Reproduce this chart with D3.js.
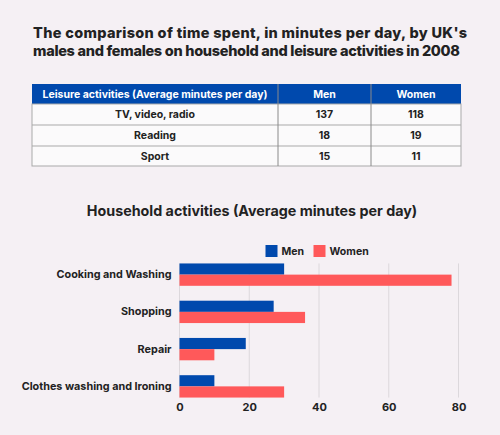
<!DOCTYPE html>
<html lang="en">
<head>
    <meta charset="UTF-8">
    <title>UK time spent 2008</title>
    <script src="https://d3js.org/d3.v7.min.js"></script>
    <style>
        body { margin: 0; background: #f5f0f4; }
        svg { display: block; font-family: Inter, "Open Sans", sans-serif; }
    </style>
</head>
<body>
    <div id="chart"></div>
    <script>
        // data
        var titleLines = ["The comparison of time spent, in minutes per day, by UK's",
                          "males and females on household and leisure activities in 2008"];
        var tableHeader = ["Leisure activities (Average minutes per day)", "Men", "Women"];
        var leisure = ["TV, video, radio", "Reading", "Sport"];
        var leisureMen = [137, 18, 15];
        var leisureWomen = [118, 19, 11];

        var chartTitle = "Household activities (Average minutes per day)";
        var household = ["Cooking and Washing", "Shopping", "Repair", "Clothes washing and Ironing"];
        var series = ["Men", "Women"];
        var householdMen = [30, 27, 19, 10];
        var householdWomen = [78, 36, 10, 30];
        var xTicks = [0, 20, 40, 60, 80];

        var colors = { Men: "#0049ad", Women: "#ff595a" };

        var W = 500, H = 435;
        var svg = d3.select("#chart").append("svg").attr("width", W).attr("height", H);

        svg.append("rect").attr("width", W).attr("height", H).attr("fill", "#f5f0f4");

        // title (two lines, stretched to the same width as the reference)
        var titleWidths = [434, 427];
        svg.selectAll(".title").data(titleLines).enter().append("text")
            .attr("x", 33)
            .attr("y", function(d, i) { return 38 + i * 18; })
            .attr("font-size", 14.5)
            .attr("font-weight", 800)
            .attr("fill", "#222")
            .attr("textLength", function(d, i) { return titleWidths[i]; })
            .attr("lengthAdjust", "spacing")
            .text(function(d) { return d; });

        // table
        var colX = [32, 278, 371, 461];
        var rowY = [84, 104, 125, 146, 166];
        var tbl = svg.append("g");
        tbl.append("rect").attr("x", colX[0]).attr("y", rowY[0])
            .attr("width", colX[3] - colX[0]).attr("height", rowY[1] - rowY[0])
            .attr("fill", "#0049ad");
        tbl.append("rect").attr("x", colX[0]).attr("y", rowY[1])
            .attr("width", colX[3] - colX[0]).attr("height", rowY[4] - rowY[1])
            .attr("fill", "#fbfafb").attr("stroke", "#a9a9a9").attr("stroke-width", 1);
        [2, 3].forEach(function(i) {
            tbl.append("line").attr("x1", colX[0]).attr("x2", colX[3])
                .attr("y1", rowY[i]).attr("y2", rowY[i]).attr("stroke", "#a9a9a9");
        });
        [1, 2].forEach(function(i) {
            tbl.append("line").attr("x1", colX[i]).attr("x2", colX[i])
                .attr("y1", rowY[0]).attr("y2", rowY[4]).attr("stroke", "#8a8a8a");
        });
        tableHeader.forEach(function(h, i) {
            tbl.append("text")
                .attr("x", (colX[i] + colX[i + 1]) / 2).attr("y", (rowY[0] + rowY[1]) / 2)
                .attr("dy", "0.35em").attr("text-anchor", "middle")
                .attr("font-size", 10.5).attr("font-weight", 700).attr("fill", "#fff")
                .text(h);
        });
        leisure.forEach(function(name, r) {
            var cells = [name, leisureMen[r], leisureWomen[r]];
            cells.forEach(function(c, i) {
                tbl.append("text")
                    .attr("x", (colX[i] + colX[i + 1]) / 2).attr("y", (rowY[r + 1] + rowY[r + 2]) / 2)
                    .attr("dy", "0.35em").attr("text-anchor", "middle")
                    .attr("font-size", 10.5).attr("font-weight", 700).attr("fill", "#222")
                    .text(c);
            });
        });

        // bar chart
        svg.append("text").attr("x", 252).attr("y", 211).attr("dy", "0.35em")
            .attr("text-anchor", "middle").attr("font-size", 14.3).attr("font-weight", 700)
            .attr("fill", "#222").text(chartTitle);

        var x = d3.scaleLinear().domain([0, 80]).range([179.5, 458.5]);
        var y = d3.scaleBand().domain(household).range([256, 405]).paddingInner(0.4).paddingOuter(0.2);
        var y1 = d3.scaleBand().domain(series).range([0, y.bandwidth()]);

        var gridTop = y(household[0]), gridBot = y(household[household.length - 1]) + y.bandwidth();
        svg.append("g").selectAll("line").data(xTicks).enter().append("line")
            .attr("x1", function(d) { return x(d); }).attr("x2", function(d) { return x(d); })
            .attr("y1", gridTop).attr("y2", gridBot)
            .attr("stroke", "#dcd8dc").attr("stroke-width", 1);

        var rows = household.map(function(h, i) {
            return { name: h, Men: householdMen[i], Women: householdWomen[i] };
        });
        var grp = svg.append("g").selectAll("g").data(rows).enter().append("g")
            .attr("transform", function(d) { return "translate(0," + y(d.name) + ")"; });
        grp.selectAll("rect").data(function(d) {
            return series.map(function(s) { return { key: s, value: d[s] }; });
        }).enter().append("rect")
            .attr("x", x(0))
            .attr("y", function(d) { return y1(d.key); })
            .attr("width", function(d) { return x(d.value) - x(0); })
            .attr("height", y1.bandwidth())
            .attr("fill", function(d) { return colors[d.key]; });

        // y axis labels
        var yAxis = d3.axisLeft(y).tickSize(0).tickPadding(8);
        var ya = svg.append("g").attr("transform", "translate(" + x(0) + ",0)").call(yAxis);
        ya.select(".domain").remove();
        ya.selectAll("text").attr("font-size", 10.8).attr("font-weight", 700)
            .attr("fill", "#222").attr("font-family", "Inter, sans-serif");

        // x axis
        var xAxis = d3.axisBottom(x).tickValues(xTicks).tickSize(0).tickPadding(6);
        var xa = svg.append("g").attr("transform", "translate(0," + gridBot + ")").call(xAxis);
        xa.select(".domain").remove();
        xa.selectAll("text").attr("font-size", 11).attr("font-weight", 700)
            .attr("fill", "#222").attr("font-family", "Inter, sans-serif");

        // legend
        var legX = [265.5, 313.5];
        var leg = svg.append("g").selectAll("g").data(series).enter().append("g")
            .attr("transform", function(d, i) { return "translate(" + legX[i] + ",245)"; });
        leg.append("rect").attr("width", 12).attr("height", 12)
            .attr("fill", function(d) { return colors[d]; });
        leg.append("text").attr("x", 16).attr("y", 6).attr("dy", "0.35em")
            .attr("font-size", 10.5).attr("font-weight", 700).attr("fill", "#222")
            .text(function(d) { return d; });
    </script>
</body>
</html>
